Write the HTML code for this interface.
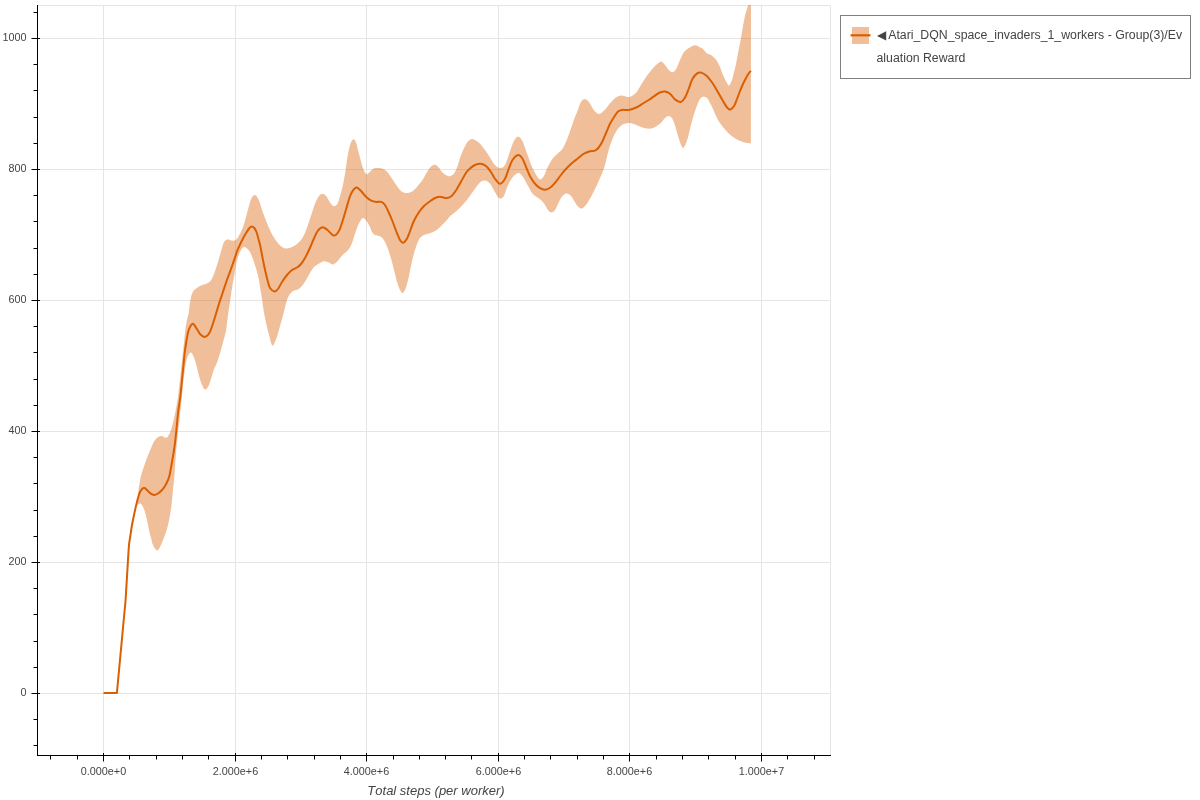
<!DOCTYPE html>
<html><head><meta charset="utf-8"><style>html,body{margin:0;padding:0;background:#fff;width:1200px;height:800px;overflow:hidden}svg{display:block}</style></head>
<body><div style="will-change:transform;width:1200px;height:800px;background:#fff"><svg width="1200" height="800" viewBox="0 0 1200 800">
<path d="M103.5 5.5V755.5M235.5 5.5V755.5M366.5 5.5V755.5M498.5 5.5V755.5M629.5 5.5V755.5M761.5 5.5V755.5M37.5 693.5H830.5M37.5 562.5H830.5M37.5 431.5H830.5M37.5 300.5H830.5M37.5 169.5H830.5M37.5 38.5H830.5" stroke="#e5e5e5" stroke-width="1" fill="none"/>
<path d="M37.5 5.5H830.5V755.5" stroke="#e5e5e5" stroke-width="1" fill="none"/>
<defs><clipPath id="fr"><rect x="38" y="5" width="792" height="750"/></clipPath></defs>
<g clip-path="url(#fr)"><path d="M103.5 693 L116.9 693 L125.6 600 L128 560 L129 545 L130.5 535L130.50 535.00C130.75 533.33 131.42 528.33 132.00 525.00C132.58 521.67 133.38 518.00 134.00 515.00C134.62 512.00 135.03 508.75 135.70 507.00C136.37 505.25 137.20 505.08 138.00 504.50C138.80 503.92 139.67 503.08 140.50 503.50C141.33 503.92 142.25 505.58 143.00 507.00C143.75 508.42 144.33 509.83 145.00 512.00C145.67 514.17 146.33 517.00 147.00 520.00C147.67 523.00 148.33 527.00 149.00 530.00C149.67 533.00 150.33 535.50 151.00 538.00C151.67 540.50 152.00 542.92 153.00 545.00C154.00 547.08 155.83 550.17 157.00 550.50C158.17 550.83 159.00 548.75 160.00 547.00C161.00 545.25 162.00 542.50 163.00 540.00C164.00 537.50 165.17 534.50 166.00 532.00C166.83 529.50 167.33 527.83 168.00 525.00C168.67 522.17 169.42 518.33 170.00 515.00C170.58 511.67 171.00 509.17 171.50 505.00C172.00 500.83 172.50 495.00 173.00 490.00C173.50 485.00 173.96 481.67 174.50 475.00C175.04 468.33 175.67 457.17 176.25 450.00C176.83 442.83 177.46 437.00 178.00 432.00C178.54 427.00 179.00 424.50 179.50 420.00C180.00 415.50 180.53 409.67 181.00 405.00C181.47 400.33 181.88 396.17 182.30 392.00C182.72 387.83 183.08 383.67 183.50 380.00C183.92 376.33 184.38 372.83 184.80 370.00C185.22 367.17 185.47 365.33 186.00 363.00C186.53 360.67 187.18 357.75 188.00 356.00C188.82 354.25 189.94 352.33 190.90 352.50C191.86 352.67 192.90 355.12 193.75 357.00C194.60 358.88 195.16 360.75 196.00 363.75C196.84 366.75 197.87 371.62 198.80 375.00C199.73 378.38 200.57 381.57 201.60 384.00C202.63 386.43 203.87 389.23 205.00 389.60C206.13 389.98 207.36 388.18 208.40 386.25C209.44 384.32 210.36 380.71 211.25 378.00C212.14 375.29 212.71 372.79 213.75 370.00C214.79 367.21 216.25 364.79 217.50 361.25C218.75 357.71 220.08 352.79 221.25 348.75C222.42 344.71 223.69 340.12 224.50 337.00C225.31 333.88 225.52 333.67 226.10 330.00C226.68 326.33 227.31 320.00 228.00 315.00C228.69 310.00 229.50 305.00 230.25 300.00C231.00 295.00 231.88 288.83 232.50 285.00C233.12 281.17 233.55 279.50 234.00 277.00C234.45 274.50 234.83 272.17 235.20 270.00C235.57 267.83 235.82 265.92 236.20 264.00C236.58 262.08 236.82 260.58 237.50 258.50C238.18 256.42 239.17 253.42 240.25 251.50C241.33 249.58 242.62 247.25 244.00 247.00C245.38 246.75 247.25 248.62 248.50 250.00C249.75 251.38 250.50 253.00 251.50 255.25C252.50 257.50 253.62 260.88 254.50 263.50C255.38 266.12 256.00 268.25 256.75 271.00C257.50 273.75 258.38 276.83 259.00 280.00C259.62 283.17 260.05 287.17 260.50 290.00C260.95 292.83 261.16 293.46 261.70 297.00C262.24 300.54 262.99 306.79 263.75 311.25C264.51 315.71 265.31 319.58 266.25 323.75C267.19 327.92 268.36 332.61 269.40 336.25C270.44 339.89 271.36 345.18 272.50 345.60C273.64 346.02 275.00 341.98 276.25 338.75C277.50 335.52 278.75 330.62 280.00 326.25C281.25 321.88 282.58 316.88 283.75 312.50C284.92 308.12 285.96 303.08 287.00 300.00C288.04 296.92 288.83 295.58 290.00 294.00C291.17 292.42 292.67 291.25 294.00 290.50C295.33 289.75 296.67 290.25 298.00 289.50C299.33 288.75 300.67 287.58 302.00 286.00C303.33 284.42 304.67 282.17 306.00 280.00C307.33 277.83 308.67 275.17 310.00 273.00C311.33 270.83 312.54 268.54 314.00 267.00C315.46 265.46 317.12 264.71 318.75 263.75C320.38 262.79 322.08 261.46 323.75 261.25C325.42 261.04 327.19 261.98 328.75 262.50C330.31 263.02 331.64 264.61 333.10 264.40C334.56 264.19 335.93 262.82 337.50 261.25C339.07 259.68 340.83 256.77 342.50 255.00C344.17 253.22 346.04 252.27 347.50 250.60C348.96 248.93 350.00 247.81 351.25 245.00C352.50 242.19 353.75 237.29 355.00 233.75C356.25 230.21 357.40 226.36 358.75 223.75C360.10 221.14 361.64 218.31 363.10 218.10C364.56 217.89 366.35 221.02 367.50 222.50C368.65 223.98 369.25 225.42 370.00 227.00C370.75 228.58 371.17 230.67 372.00 232.00C372.83 233.33 373.83 234.33 375.00 235.00C376.17 235.67 377.83 235.58 379.00 236.00C380.17 236.42 381.00 236.50 382.00 237.50C383.00 238.50 384.00 240.08 385.00 242.00C386.00 243.92 387.17 246.83 388.00 249.00C388.83 251.17 389.33 252.83 390.00 255.00C390.67 257.17 391.33 259.50 392.00 262.00C392.67 264.50 393.33 267.33 394.00 270.00C394.67 272.67 395.33 275.50 396.00 278.00C396.67 280.50 397.33 283.00 398.00 285.00C398.67 287.00 399.25 288.67 400.00 290.00C400.75 291.33 401.67 293.00 402.50 293.00C403.33 293.00 404.25 291.50 405.00 290.00C405.75 288.50 406.33 286.33 407.00 284.00C407.67 281.67 408.33 279.00 409.00 276.00C409.67 273.00 410.33 269.17 411.00 266.00C411.67 262.83 412.33 259.67 413.00 257.00C413.67 254.33 414.33 252.17 415.00 250.00C415.67 247.83 416.17 246.00 417.00 244.00C417.83 242.00 418.83 239.50 420.00 238.00C421.17 236.50 422.50 235.75 424.00 235.00C425.50 234.25 427.50 234.00 429.00 233.50C430.50 233.00 431.50 232.75 433.00 232.00C434.50 231.25 436.33 230.33 438.00 229.00C439.67 227.67 441.50 225.50 443.00 224.00C444.50 222.50 445.83 221.29 447.00 220.00C448.17 218.71 448.46 217.71 450.00 216.25C451.54 214.79 454.17 213.12 456.25 211.25C458.33 209.38 460.42 207.29 462.50 205.00C464.58 202.71 466.67 200.21 468.75 197.50C470.83 194.79 473.12 191.25 475.00 188.75C476.88 186.25 478.33 183.86 480.00 182.50C481.67 181.14 483.33 180.39 485.00 180.60C486.67 180.81 488.54 182.18 490.00 183.75C491.46 185.32 492.50 187.92 493.75 190.00C495.00 192.08 496.46 194.83 497.50 196.25C498.54 197.67 498.96 198.50 500.00 198.50C501.04 198.50 502.50 198.29 503.75 196.25C505.00 194.21 506.04 189.38 507.50 186.25C508.96 183.12 510.73 179.69 512.50 177.50C514.27 175.31 516.43 173.31 518.10 173.10C519.77 172.89 520.93 174.27 522.50 176.25C524.07 178.23 525.83 182.12 527.50 185.00C529.17 187.88 530.75 191.33 532.50 193.50C534.25 195.67 536.42 196.75 538.00 198.00C539.58 199.25 540.83 199.83 542.00 201.00C543.17 202.17 544.00 203.50 545.00 205.00C546.00 206.50 546.92 208.75 548.00 210.00C549.08 211.25 550.33 212.50 551.50 212.50C552.67 212.50 553.92 211.42 555.00 210.00C556.08 208.58 557.00 206.00 558.00 204.00C559.00 202.00 560.00 199.58 561.00 198.00C562.00 196.42 563.00 195.25 564.00 194.50C565.00 193.75 566.00 193.42 567.00 193.50C568.00 193.58 569.00 194.08 570.00 195.00C571.00 195.92 572.00 197.50 573.00 199.00C574.00 200.50 575.00 202.58 576.00 204.00C577.00 205.42 578.00 206.75 579.00 207.50C580.00 208.25 581.00 208.75 582.00 208.50C583.00 208.25 584.00 207.08 585.00 206.00C586.00 204.92 587.00 203.50 588.00 202.00C589.00 200.50 590.00 198.83 591.00 197.00C592.00 195.17 593.00 193.00 594.00 191.00C595.00 189.00 596.00 187.17 597.00 185.00C598.00 182.83 599.00 180.33 600.00 178.00C601.00 175.67 602.17 173.17 603.00 171.00C603.83 168.83 604.33 167.33 605.00 165.00C605.67 162.67 606.33 159.67 607.00 157.00C607.67 154.33 608.08 152.00 609.00 149.00C609.92 146.00 611.29 141.96 612.50 139.00C613.71 136.04 614.79 133.48 616.25 131.25C617.71 129.02 619.79 126.85 621.25 125.60C622.71 124.35 623.54 124.17 625.00 123.75C626.46 123.33 628.12 122.89 630.00 123.10C631.88 123.31 634.17 124.27 636.25 125.00C638.33 125.73 640.42 126.88 642.50 127.50C644.58 128.12 646.88 128.71 648.75 128.75C650.62 128.79 652.29 128.29 653.75 127.75C655.21 127.21 656.25 126.38 657.50 125.50C658.75 124.62 660.00 123.75 661.25 122.50C662.50 121.25 663.75 119.07 665.00 118.00C666.25 116.93 667.62 116.10 668.75 116.10C669.88 116.10 670.88 116.93 671.75 118.00C672.62 119.07 673.25 120.50 674.00 122.50C674.75 124.50 675.50 127.50 676.25 130.00C677.00 132.50 677.75 135.12 678.50 137.50C679.25 139.88 680.00 142.50 680.75 144.25C681.50 146.00 682.25 147.88 683.00 148.00C683.75 148.12 684.50 146.50 685.25 145.00C686.00 143.50 686.75 141.50 687.50 139.00C688.25 136.50 689.00 133.00 689.75 130.00C690.50 127.00 691.12 124.12 692.00 121.00C692.88 117.88 694.00 114.25 695.00 111.25C696.00 108.25 697.17 105.04 698.00 103.00C698.83 100.96 699.17 100.05 700.00 99.00C700.83 97.95 701.83 96.87 703.00 96.70C704.17 96.53 705.83 96.95 707.00 98.00C708.17 99.05 709.00 101.17 710.00 103.00C711.00 104.83 712.00 106.83 713.00 109.00C714.00 111.17 714.88 113.71 716.00 116.00C717.12 118.29 718.25 120.50 719.75 122.75C721.25 125.00 723.12 127.38 725.00 129.50C726.88 131.62 729.00 133.82 731.00 135.50C733.00 137.18 734.88 138.47 737.00 139.60C739.12 140.72 741.43 141.62 743.75 142.25C746.07 142.88 749.71 143.21 750.90 143.40L751 -6L751.00 -6.00C750.67 -4.67 749.67 -0.50 749.00 2.00C748.33 4.50 747.67 6.67 747.00 9.00C746.33 11.33 745.67 13.17 745.00 16.00C744.33 18.83 743.67 22.33 743.00 26.00C742.33 29.67 741.67 34.33 741.00 38.00C740.33 41.67 739.83 43.67 739.00 48.00C738.17 52.33 736.83 60.00 736.00 64.00C735.17 68.00 734.67 69.33 734.00 72.00C733.33 74.67 732.83 77.75 732.00 80.00C731.17 82.25 729.83 85.00 729.00 85.50C728.17 86.00 728.00 84.75 727.00 83.00C726.00 81.25 724.17 77.67 723.00 75.00C721.83 72.33 721.00 69.33 720.00 67.00C719.00 64.67 718.00 62.58 717.00 61.00C716.00 59.42 715.17 58.58 714.00 57.50C712.83 56.42 711.17 55.17 710.00 54.50C708.83 53.83 708.17 54.42 707.00 53.50C705.83 52.58 704.17 50.03 703.00 49.00C701.83 47.97 701.33 47.92 700.00 47.30C698.67 46.67 696.88 45.12 695.00 45.25C693.12 45.38 690.62 46.89 688.75 48.10C686.88 49.31 685.21 50.52 683.75 52.50C682.29 54.48 681.25 57.29 680.00 60.00C678.75 62.71 677.50 66.71 676.25 68.75C675.00 70.79 673.75 72.04 672.50 72.25C671.25 72.46 670.00 71.21 668.75 70.00C667.50 68.79 666.25 66.42 665.00 65.00C663.75 63.58 662.50 61.71 661.25 61.50C660.00 61.29 658.96 62.54 657.50 63.75C656.04 64.96 654.17 66.88 652.50 68.75C650.83 70.62 649.17 72.71 647.50 75.00C645.83 77.29 643.96 80.21 642.50 82.50C641.04 84.79 640.00 86.88 638.75 88.75C637.50 90.62 636.54 92.38 635.00 93.75C633.46 95.12 631.17 96.58 629.50 97.00C627.83 97.42 626.33 96.50 625.00 96.25C623.67 96.00 622.50 95.54 621.50 95.50C620.50 95.46 619.92 95.67 619.00 96.00C618.08 96.33 617.08 96.75 616.00 97.50C614.92 98.25 613.67 99.33 612.50 100.50C611.33 101.67 610.08 103.17 609.00 104.50C607.92 105.83 607.08 107.25 606.00 108.50C604.92 109.75 603.67 111.08 602.50 112.00C601.33 112.92 600.25 114.08 599.00 114.00C597.75 113.92 596.08 112.50 595.00 111.50C593.92 110.50 593.33 109.33 592.50 108.00C591.67 106.67 590.83 104.75 590.00 103.50C589.17 102.25 588.33 101.25 587.50 100.50C586.67 99.75 585.83 99.08 585.00 99.00C584.17 98.92 583.33 99.17 582.50 100.00C581.67 100.83 580.83 102.17 580.00 104.00C579.17 105.83 578.33 108.83 577.50 111.00C576.67 113.17 575.75 115.08 575.00 117.00C574.25 118.92 573.83 120.12 573.00 122.50C572.17 124.88 571.12 128.12 570.00 131.25C568.88 134.38 567.50 138.33 566.25 141.25C565.00 144.17 563.96 146.67 562.50 148.75C561.04 150.83 559.17 152.08 557.50 153.75C555.83 155.42 554.17 156.46 552.50 158.75C550.83 161.04 548.96 164.58 547.50 167.50C546.04 170.42 545.00 174.27 543.75 176.25C542.50 178.23 541.25 179.61 540.00 179.40C538.75 179.19 537.71 177.40 536.25 175.00C534.79 172.60 532.92 168.96 531.25 165.00C529.58 161.04 527.71 155.21 526.25 151.25C524.79 147.29 523.86 143.71 522.50 141.25C521.14 138.79 519.56 136.50 518.10 136.50C516.64 136.50 515.10 138.79 513.75 141.25C512.40 143.71 511.46 147.29 510.00 151.25C508.54 155.21 506.67 162.19 505.00 165.00C503.33 167.81 501.67 168.10 500.00 168.10C498.33 168.10 496.67 166.77 495.00 165.00C493.33 163.23 491.67 160.00 490.00 157.50C488.33 155.00 486.88 152.50 485.00 150.00C483.12 147.50 480.83 144.33 478.75 142.50C476.67 140.67 474.12 139.33 472.50 139.00C470.88 138.67 470.04 139.71 469.00 140.50C467.96 141.29 467.33 141.92 466.25 143.75C465.17 145.58 463.54 149.12 462.50 151.50C461.46 153.88 460.83 155.54 460.00 158.00C459.17 160.46 458.54 163.62 457.50 166.25C456.46 168.88 455.21 172.08 453.75 173.75C452.29 175.42 450.62 176.46 448.75 176.25C446.88 176.04 444.17 173.96 442.50 172.50C440.83 171.04 440.00 168.79 438.75 167.50C437.50 166.21 436.25 164.96 435.00 164.75C433.75 164.54 432.50 165.17 431.25 166.25C430.00 167.33 428.96 168.96 427.50 171.25C426.04 173.54 424.17 177.50 422.50 180.00C420.83 182.50 419.17 184.38 417.50 186.25C415.83 188.12 414.27 190.11 412.50 191.25C410.73 192.39 408.77 193.10 406.90 193.10C405.02 193.10 403.02 192.60 401.25 191.25C399.48 189.90 397.92 187.29 396.25 185.00C394.58 182.71 392.81 179.73 391.25 177.50C389.69 175.27 388.21 173.02 386.90 171.60C385.59 170.18 384.72 169.58 383.40 169.00C382.08 168.42 380.61 168.17 379.00 168.10C377.39 168.03 375.21 168.02 373.75 168.60C372.29 169.18 371.34 170.66 370.25 171.60C369.16 172.54 368.07 174.10 367.20 174.25C366.32 174.40 365.80 173.81 365.00 172.50C364.20 171.19 363.20 168.73 362.40 166.40C361.60 164.07 360.93 161.28 360.20 158.50C359.47 155.72 358.73 152.52 358.00 149.75C357.27 146.98 356.53 143.65 355.80 141.90C355.07 140.15 354.33 139.33 353.60 139.25C352.87 139.17 352.12 139.94 351.40 141.40C350.67 142.86 349.90 145.44 349.25 148.00C348.60 150.56 348.08 153.25 347.50 156.75C346.92 160.25 346.33 165.21 345.75 169.00C345.17 172.79 344.58 176.33 344.00 179.50C343.42 182.67 342.92 185.21 342.25 188.00C341.58 190.79 340.79 193.62 340.00 196.25C339.21 198.88 338.54 202.08 337.50 203.75C336.46 205.42 335.00 206.46 333.75 206.25C332.50 206.04 331.25 204.17 330.00 202.50C328.75 200.83 327.50 197.71 326.25 196.25C325.00 194.79 323.75 193.75 322.50 193.75C321.25 193.75 320.00 194.58 318.75 196.25C317.50 197.92 316.25 200.62 315.00 203.75C313.75 206.88 312.50 211.25 311.25 215.00C310.00 218.75 308.71 222.92 307.50 226.25C306.29 229.58 305.08 232.71 304.00 235.00C302.92 237.29 302.17 238.50 301.00 240.00C299.83 241.50 298.50 242.83 297.00 244.00C295.50 245.17 293.67 246.25 292.00 247.00C290.33 247.75 288.67 248.50 287.00 248.50C285.33 248.50 283.67 248.08 282.00 247.00C280.33 245.92 278.50 243.83 277.00 242.00C275.50 240.17 274.17 238.00 273.00 236.00C271.83 234.00 271.12 232.46 270.00 230.00C268.88 227.54 267.50 224.38 266.25 221.25C265.00 218.12 263.75 214.79 262.50 211.25C261.25 207.71 260.00 202.71 258.75 200.00C257.50 197.29 256.25 195.21 255.00 195.00C253.75 194.79 252.50 196.04 251.25 198.75C250.00 201.46 248.75 206.88 247.50 211.25C246.25 215.62 245.00 221.25 243.75 225.00C242.50 228.75 241.36 231.25 240.00 233.75C238.64 236.25 237.06 238.86 235.60 240.00C234.14 241.14 232.60 240.70 231.25 240.60C229.90 240.50 228.75 239.08 227.50 239.40C226.25 239.72 225.00 239.90 223.75 242.50C222.50 245.10 221.25 250.83 220.00 255.00C218.75 259.17 217.50 263.75 216.25 267.50C215.00 271.25 213.75 275.00 212.50 277.50C211.25 280.00 210.42 281.25 208.75 282.50C207.08 283.75 204.38 284.17 202.50 285.00C200.62 285.83 199.17 286.25 197.50 287.50C195.83 288.75 193.75 290.00 192.50 292.50C191.25 295.00 190.62 299.17 190.00 302.50C189.38 305.83 189.25 309.58 188.75 312.50C188.25 315.42 187.57 317.08 187.00 320.00C186.43 322.92 185.77 326.50 185.30 330.00C184.83 333.50 184.60 337.25 184.20 341.00C183.80 344.75 183.32 348.71 182.90 352.50C182.48 356.29 182.10 360.00 181.70 363.75C181.30 367.50 180.90 371.29 180.50 375.00C180.10 378.71 179.72 382.33 179.30 386.00C178.88 389.67 178.47 393.67 178.00 397.00C177.53 400.33 177.03 403.00 176.50 406.00C175.97 409.00 175.47 411.83 174.80 415.00C174.13 418.17 173.30 422.08 172.50 425.00C171.70 427.92 170.93 430.42 170.00 432.50C169.07 434.58 167.94 436.77 166.90 437.50C165.86 438.23 164.90 437.11 163.75 436.90C162.60 436.69 161.46 435.73 160.00 436.25C158.54 436.77 156.46 438.12 155.00 440.00C153.54 441.88 152.71 444.17 151.25 447.50C149.79 450.83 147.92 455.42 146.25 460.00C144.58 464.58 142.29 471.50 141.25 475.00C140.21 478.50 140.46 478.50 140.00 481.00C139.54 483.50 138.83 487.17 138.50 490.00C138.17 492.83 138.08 496.67 138.00 498.00L138 498 L136 506 L134 515 L132 525 L130.5 535 L129 545 L128 560 L125.6 600 L116.9 693 L103.5 693Z" fill="#d95f02" fill-opacity="0.4" stroke="none"/>
<path d="M103.5 693L116.9 693L125.6 600C126.00 593.33 127.43 569.17 128.00 560.00C128.57 550.83 128.58 549.17 129.00 545.00C129.42 540.83 130.00 538.33 130.50 535.00C131.00 531.67 131.42 528.33 132.00 525.00C132.58 521.67 133.33 518.17 134.00 515.00C134.67 511.83 135.33 508.83 136.00 506.00C136.67 503.17 137.33 500.33 138.00 498.00C138.67 495.67 139.25 493.58 140.00 492.00C140.75 490.42 141.75 489.17 142.50 488.50C143.25 487.83 143.75 487.75 144.50 488.00C145.25 488.25 146.08 489.17 147.00 490.00C147.92 490.83 148.83 492.17 150.00 493.00C151.17 493.83 152.67 494.92 154.00 495.00C155.33 495.08 156.67 494.33 158.00 493.50C159.33 492.67 160.83 491.25 162.00 490.00C163.17 488.75 164.00 487.67 165.00 486.00C166.00 484.33 167.23 481.83 168.00 480.00C168.77 478.17 168.95 477.92 169.60 475.00C170.25 472.08 171.10 467.08 171.90 462.50C172.70 457.92 173.68 452.67 174.40 447.50C175.12 442.33 175.63 437.33 176.25 431.50C176.87 425.67 177.43 418.17 178.10 412.50C178.77 406.83 179.70 401.88 180.25 397.50C180.80 393.12 181.03 390.00 181.40 386.25C181.78 382.50 182.13 378.75 182.50 375.00C182.87 371.25 183.22 367.50 183.60 363.75C183.97 360.00 184.28 356.25 184.75 352.50C185.22 348.75 185.84 344.62 186.40 341.25C186.96 337.88 187.50 334.62 188.10 332.25C188.70 329.88 189.17 328.42 190.00 327.00C190.83 325.58 191.85 323.25 193.10 323.75C194.35 324.25 196.27 328.21 197.50 330.00C198.73 331.79 199.35 333.35 200.50 334.50C201.65 335.65 203.32 336.68 204.40 336.90C205.48 337.12 206.23 336.37 207.00 335.80C207.77 335.23 208.38 334.47 209.00 333.50C209.62 332.53 209.83 332.46 210.75 330.00C211.67 327.54 213.12 323.12 214.50 318.75C215.88 314.38 217.62 308.12 219.00 303.75C220.38 299.38 221.50 296.25 222.75 292.50C224.00 288.75 225.33 284.58 226.50 281.25C227.67 277.92 228.77 275.21 229.75 272.50C230.73 269.79 231.53 267.50 232.40 265.00C233.28 262.50 234.19 259.88 235.00 257.50C235.81 255.12 236.38 253.00 237.25 250.75C238.12 248.50 239.25 246.12 240.25 244.00C241.25 241.88 242.25 239.88 243.25 238.00C244.25 236.12 245.25 234.38 246.25 232.75C247.25 231.12 248.38 229.31 249.25 228.25C250.12 227.19 250.62 226.40 251.50 226.40C252.38 226.40 253.62 227.19 254.50 228.25C255.38 229.31 256.07 230.88 256.75 232.75C257.43 234.62 258.01 237.29 258.60 239.50C259.19 241.71 259.73 243.42 260.30 246.00C260.87 248.58 261.38 251.83 262.00 255.00C262.62 258.17 263.33 261.83 264.00 265.00C264.67 268.17 265.33 271.17 266.00 274.00C266.67 276.83 267.33 279.67 268.00 282.00C268.67 284.33 268.92 286.42 270.00 288.00C271.08 289.58 273.17 291.33 274.50 291.50C275.83 291.67 276.75 290.58 278.00 289.00C279.25 287.42 280.50 284.33 282.00 282.00C283.50 279.67 285.33 277.00 287.00 275.00C288.67 273.00 290.33 271.25 292.00 270.00C293.67 268.75 295.50 268.50 297.00 267.50C298.50 266.50 299.67 265.58 301.00 264.00C302.33 262.42 303.67 260.33 305.00 258.00C306.33 255.67 307.54 253.17 309.00 250.00C310.46 246.83 312.33 242.12 313.75 239.00C315.17 235.88 316.04 233.21 317.50 231.25C318.96 229.29 320.83 227.46 322.50 227.25C324.17 227.04 325.62 228.61 327.50 230.00C329.38 231.39 331.88 235.39 333.75 235.60C335.62 235.81 337.29 233.64 338.75 231.25C340.21 228.86 341.25 225.00 342.50 221.25C343.75 217.50 345.00 212.92 346.25 208.75C347.50 204.58 348.75 199.47 350.00 196.25C351.25 193.03 352.60 190.86 353.75 189.40C354.90 187.94 355.65 187.19 356.90 187.50C358.15 187.81 359.69 189.68 361.25 191.25C362.81 192.82 364.58 195.34 366.25 196.90C367.92 198.46 369.58 199.77 371.25 200.60C372.92 201.43 374.58 201.68 376.25 201.90C377.92 202.12 379.79 201.38 381.25 201.90C382.71 202.42 383.75 203.23 385.00 205.00C386.25 206.77 387.50 209.79 388.75 212.50C390.00 215.21 391.25 218.12 392.50 221.25C393.75 224.38 395.00 228.12 396.25 231.25C397.50 234.38 398.86 238.09 400.00 240.00C401.14 241.91 401.95 242.91 403.10 242.70C404.25 242.49 405.75 240.66 406.90 238.75C408.05 236.84 408.86 234.17 410.00 231.25C411.14 228.33 412.29 224.38 413.75 221.25C415.21 218.12 417.08 215.00 418.75 212.50C420.42 210.00 421.88 208.12 423.75 206.25C425.62 204.38 427.92 202.71 430.00 201.25C432.08 199.79 434.38 198.22 436.25 197.50C438.12 196.78 439.58 196.80 441.25 196.90C442.92 197.00 444.58 198.21 446.25 198.10C447.92 197.99 449.58 197.60 451.25 196.25C452.92 194.90 454.58 192.50 456.25 190.00C457.92 187.50 459.58 184.17 461.25 181.25C462.92 178.33 464.79 174.62 466.25 172.50C467.71 170.38 468.54 169.75 470.00 168.50C471.46 167.25 473.23 165.79 475.00 165.00C476.77 164.21 478.73 163.54 480.60 163.75C482.48 163.96 484.48 164.79 486.25 166.25C488.02 167.71 489.79 170.42 491.25 172.50C492.71 174.58 493.54 176.88 495.00 178.75C496.46 180.62 498.33 183.75 500.00 183.75C501.67 183.75 503.54 181.25 505.00 178.75C506.46 176.25 507.50 171.88 508.75 168.75C510.00 165.62 510.94 162.29 512.50 160.00C514.06 157.71 516.43 155.21 518.10 155.00C519.77 154.79 521.14 156.67 522.50 158.75C523.86 160.83 525.00 164.58 526.25 167.50C527.50 170.42 528.54 173.54 530.00 176.25C531.46 178.96 533.33 181.78 535.00 183.75C536.67 185.72 538.33 187.11 540.00 188.10C541.67 189.09 543.33 189.75 545.00 189.70C546.67 189.65 548.33 188.96 550.00 187.80C551.67 186.64 553.33 184.68 555.00 182.75C556.67 180.82 558.33 178.38 560.00 176.25C561.67 174.12 563.12 172.08 565.00 170.00C566.88 167.92 569.17 165.62 571.25 163.75C573.33 161.88 575.42 160.42 577.50 158.75C579.58 157.08 581.67 155.00 583.75 153.75C585.83 152.50 588.12 151.78 590.00 151.25C591.88 150.72 593.54 151.22 595.00 150.60C596.46 149.97 597.50 149.06 598.75 147.50C600.00 145.94 601.25 143.75 602.50 141.25C603.75 138.75 605.00 135.42 606.25 132.50C607.50 129.58 608.75 126.25 610.00 123.75C611.25 121.25 612.42 119.54 613.75 117.50C615.08 115.46 616.54 112.77 618.00 111.50C619.46 110.23 620.71 110.17 622.50 109.90C624.29 109.63 626.46 110.30 628.75 109.90C631.04 109.50 633.96 108.53 636.25 107.50C638.54 106.47 640.42 105.00 642.50 103.75C644.58 102.50 646.67 101.36 648.75 100.00C650.83 98.64 653.12 96.85 655.00 95.60C656.88 94.35 658.33 93.18 660.00 92.50C661.67 91.82 663.33 91.29 665.00 91.50C666.67 91.71 668.33 92.43 670.00 93.75C671.67 95.07 673.25 98.03 675.00 99.40C676.75 100.78 678.83 102.32 680.50 102.00C682.17 101.68 683.62 99.71 685.00 97.50C686.38 95.29 687.50 91.88 688.75 88.75C690.00 85.62 691.04 81.36 692.50 78.75C693.96 76.14 696.04 74.12 697.50 73.10C698.96 72.07 699.79 72.20 701.25 72.60C702.71 73.00 704.62 74.10 706.25 75.50C707.88 76.90 709.54 79.08 711.00 81.00C712.46 82.92 713.67 84.83 715.00 87.00C716.33 89.17 717.67 91.67 719.00 94.00C720.33 96.33 721.83 99.00 723.00 101.00C724.17 103.00 724.83 104.58 726.00 106.00C727.17 107.42 728.67 109.50 730.00 109.50C731.33 109.50 732.83 107.75 734.00 106.00C735.17 104.25 736.00 101.50 737.00 99.00C738.00 96.50 739.00 93.50 740.00 91.00C741.00 88.50 742.00 86.17 743.00 84.00C744.00 81.83 745.00 79.83 746.00 78.00C747.00 76.17 748.17 74.17 749.00 73.00C749.83 71.83 750.67 71.33 751.00 71.00" fill="none" stroke="#d95f02" stroke-width="2" stroke-linejoin="round"/></g>
<path d="M37.5 5.0V756.0M37.0 755.5H831.0M33.5 745.5H37.5M33.5 719.5H37.5M31.5 693.5H40.0M33.5 667.5H37.5M33.5 641.5H37.5M33.5 614.5H37.5M33.5 588.5H37.5M31.5 562.5H40.0M33.5 536.5H37.5M33.5 510.5H37.5M33.5 483.5H37.5M33.5 457.5H37.5M31.5 431.5H40.0M33.5 405.5H37.5M33.5 379.5H37.5M33.5 352.5H37.5M33.5 326.5H37.5M31.5 300.5H40.0M33.5 274.5H37.5M33.5 248.5H37.5M33.5 221.5H37.5M33.5 195.5H37.5M31.5 169.5H40.0M33.5 143.5H37.5M33.5 117.5H37.5M33.5 90.5H37.5M33.5 64.5H37.5M31.5 38.5H40.0M33.5 12.5H37.5M50.5 755.5V759.5M77.5 755.5V759.5M103.5 753.0V761.5M129.5 755.5V759.5M156.5 755.5V759.5M182.5 755.5V759.5M208.5 755.5V759.5M235.5 753.0V761.5M261.5 755.5V759.5M287.5 755.5V759.5M314.5 755.5V759.5M340.5 755.5V759.5M366.5 753.0V761.5M393.5 755.5V759.5M419.5 755.5V759.5M445.5 755.5V759.5M471.5 755.5V759.5M498.5 753.0V761.5M524.5 755.5V759.5M550.5 755.5V759.5M577.5 755.5V759.5M603.5 755.5V759.5M629.5 753.0V761.5M656.5 755.5V759.5M682.5 755.5V759.5M708.5 755.5V759.5M735.5 755.5V759.5M761.5 753.0V761.5M787.5 755.5V759.5M814.5 755.5V759.5" stroke="#000" stroke-width="1" fill="none"/>
<g font-family="Liberation Sans, sans-serif" font-size="10.8" fill="#444"><text x="26.5" y="695.9" text-anchor="end">0</text><text x="26.5" y="564.9" text-anchor="end">200</text><text x="26.5" y="433.9" text-anchor="end">400</text><text x="26.5" y="302.9" text-anchor="end">600</text><text x="26.5" y="171.9" text-anchor="end">800</text><text x="26.5" y="40.9" text-anchor="end">1000</text><text x="103.5" y="775" text-anchor="middle">0.000e+0</text><text x="235.5" y="775" text-anchor="middle">2.000e+6</text><text x="366.5" y="775" text-anchor="middle">4.000e+6</text><text x="498.5" y="775" text-anchor="middle">6.000e+6</text><text x="629.5" y="775" text-anchor="middle">8.000e+6</text><text x="761.5" y="775" text-anchor="middle">1.000e+7</text></g>
<text x="436" y="794.7" text-anchor="middle" font-family="Liberation Sans, sans-serif" font-size="13" font-style="italic" fill="#444" style="font-kerning:none">Total steps (per worker)</text>
<rect x="840.5" y="15.5" width="350" height="63" fill="#fff" stroke="#808080" stroke-width="1"/>
<rect x="852" y="27" width="17" height="17" fill="#d95f02" fill-opacity="0.4"/>
<path d="M850.5 35.3H870.5" stroke="#d95f02" stroke-width="2.2"/>
<g font-family="Liberation Sans, sans-serif" font-size="12.3" fill="#444"><text x="876.5" y="39">◀ Atari_DQN_space_invaders_1_workers - Group(3)/Ev</text><text x="876.5" y="61.5">aluation Reward</text></g>
</svg></div></body></html>
